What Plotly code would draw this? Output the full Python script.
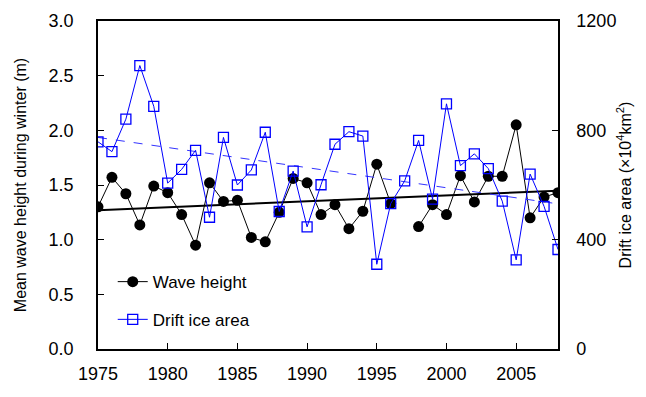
import plotly.graph_objects as go

years = list(range(1975, 2009))
wave_height = [1.30, 1.57, 1.42, 1.135, 1.49, 1.43, 1.23, 0.95, 1.52, 1.35,
               1.36, 1.02, 0.98, 1.25, 1.56, 1.52, 1.23, 1.32, 1.10, 1.26,
               1.69, 1.33, None, 1.12, 1.32, 1.23, 1.585, 1.345, 1.58, 1.58,
               2.05, 1.20, 1.39, 1.43]
ice_area = [758, 722, 841, 1037, 888, 607, 657, 727, 482, 774,
            600, 655, 793, 503, 651, 447, 601, 749, 795, 779,
            310, 532, 615, 763, 548, 897, 671, 714, 660, 541,
            326, 640, 522, 364]
trend_years = [1975, 2008]
wave_trend = [1.27, 1.448]
ice_trend = [774, 531]

x_ticks = [1975, 1980, 1985, 1990, 1995, 2000, 2005]
FONT = "Liberation Sans, Arial, sans-serif"

fig = go.Figure()
fig.add_trace(go.Scatter(x=trend_years, y=wave_trend, mode="lines",
                         line=dict(color="black", width=2), showlegend=False,
                         hoverinfo="skip"))
fig.add_trace(go.Scatter(x=years, y=wave_height, mode="lines+markers", name="Wave height",
                         line=dict(color="black", width=1), connectgaps=False,
                         marker=dict(symbol="circle", size=11, color="black"),
                         legend="legend"))
fig.add_trace(go.Scatter(x=trend_years, y=ice_trend, mode="lines", yaxis="y2",
                         line=dict(color="#3333ff", width=1, dash="dash"), showlegend=False,
                         hoverinfo="skip"))
fig.add_trace(go.Scatter(x=years, y=ice_area, mode="lines+markers", name="Drift ice area",
                         yaxis="y2", line=dict(color="blue", width=1),
                         marker=dict(symbol="square-open", size=10, color="blue",
                                     line=dict(width=1.3)),
                         legend="legend2"))

tick_font = dict(family=FONT, size=18, color="black")
title_font = dict(family=FONT, size=16, color="black")
leg_font = dict(family=FONT, size=17, color="black")
fig.update_layout(
    width=646, height=397,
    margin=dict(l=98, r=88, t=21, b=48, autoexpand=False),
    paper_bgcolor="white", plot_bgcolor="white",
    font=tick_font,
    xaxis=dict(range=[1975, 2008], tickvals=x_ticks, ticks="inside", ticklen=6,
               tickcolor="black", showline=True, linecolor="black", linewidth=1.5,
               mirror=True, showgrid=False, zeroline=False, ticklabelstandoff=8,
               tickfont=tick_font, automargin=False),
    yaxis=dict(range=[0, 3.0], dtick=0.5, tickformat=".1f", ticks="inside", ticklen=6,
               tickcolor="black", showline=True, linecolor="black", linewidth=1.5,
               showgrid=False, zeroline=False, ticklabelstandoff=19,
               tickfont=tick_font, automargin=False,
               title=dict(text="Mean wave height during winter (m)",
                          font=title_font, standoff=18)),
    yaxis2=dict(range=[0, 1200], dtick=400, overlaying="y", side="right",
                ticks="inside", ticklen=6, tickcolor="black", showline=True,
                linecolor="black", linewidth=1.5, showgrid=False, zeroline=False,
                ticklabelstandoff=13, tickfont=tick_font, automargin=False,
                title=dict(text="Drift ice area (×10<sup>4</sup>km<sup>2</sup>)",
                           font=title_font, standoff=4)),
    legend=dict(x=0.032, y=0.204, xanchor="left", yanchor="middle",
                bgcolor="rgba(0,0,0,0)", font=leg_font, itemwidth=30),
    legend2=dict(x=0.032, y=0.089, xanchor="left", yanchor="middle",
                 bgcolor="rgba(0,0,0,0)", font=leg_font, itemwidth=30),
)

fig.write_html("out.html", config={"displayModeBar": False},
               post_script="document.body.style.margin='0px';document.body.style.overflow='hidden';")
